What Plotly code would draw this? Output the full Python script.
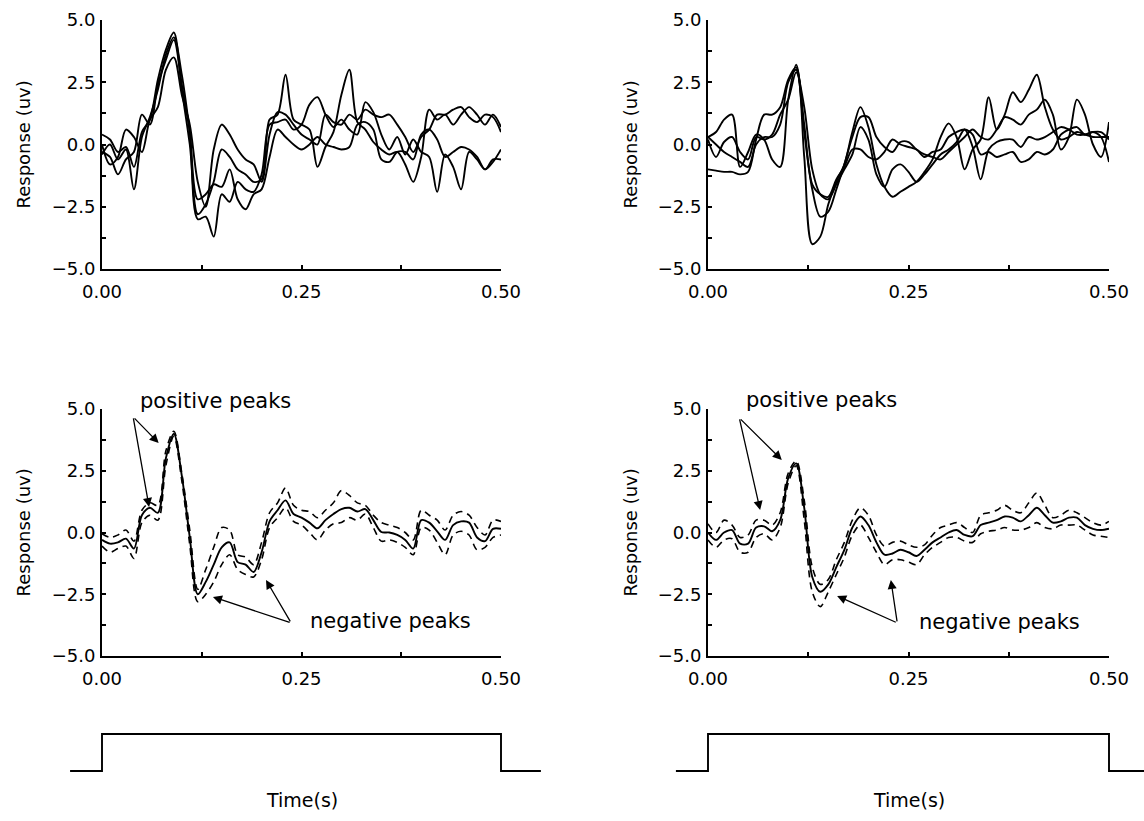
import plotly.graph_objects as go

# ---------------------------------------------------------------- data
TIME = [i / 100 for i in range(51)]  # seconds, 0.00 .. 0.50

# upper-left: four single-trial responses (uV)
TL_A = [0.4, 0.2, -0.3, -0.1, -0.9, 0.5, 1.0, 2.6, 3.8, 4.5,
        2.2, 0.0, -2.8, -2.4, -1.5, -0.2, -0.5, -1.0, -1.2, -1.5,
        -1.4, 1.0, 1.2, 2.8, 1.0, 0.8, 0.6, -0.9, -0.1, 0.5,
        2.0, 3.0, 0.9, 0.6, 0.1, -0.2, -0.4, -0.3, -0.8, -1.5,
        -0.5, 1.4, 1.0, 1.2, 0.8, 1.2, 1.5, 1.2, 0.8, 1.2,
        0.7]
TL_B = [-0.3, -0.5, -1.2, -0.6, -0.3, 1.2, 0.8, 2.4, 3.4, 4.2,
        2.4, 0.5, -3.0, -2.9, -3.7, -2.0, -2.3, -1.5, -1.8, -1.9,
        -1.2, 0.8, 0.9, 1.0, 0.6, 0.8, 1.6, 1.9, 1.2, 0.7,
        1.0, 0.6, 0.4, 1.7, 1.3, 0.4, -0.2, 0.3, -0.4, 0.2,
        -0.3, -0.5, -1.9, -0.4, -0.9, -1.8, -0.3, -0.6, -1.0, -0.7,
        -0.2]
TL_C = [0.0, -0.8, -0.5, 0.6, 0.3, -0.3, 1.0, 1.5, 3.0, 3.5,
        2.0, 0.8, -1.5, -2.5, -0.2, 0.8, 0.4, -0.2, -0.6, -0.8,
        -1.5, 0.4, 1.3, 1.2, 0.8, 0.4, 0.2, 0.0, 1.2, 0.9,
        0.8, 1.2, 1.0, 1.4, 1.2, 1.1, 1.2, 0.8, 0.3, -0.3,
        0.3, 0.6, 1.2, 1.2, 1.4, 1.5, 1.1, 0.9, 1.2, 1.1,
        0.5]
TL_D = [-0.4, 0.0, -0.6, -0.2, -1.8, 0.3, 1.1, 2.2, 3.6, 4.3,
        2.8, 0.5, -2.2, -2.0, -1.6, -1.7, -1.0, -2.2, -2.6, -2.0,
        -1.8, -0.5, 0.6, 0.3, 0.0, -0.2, 0.0, 0.3, 0.0, -0.1,
        -0.2, -0.1, 0.8, 0.9, 0.6, -0.6, -0.7, -0.3, -0.3, -0.6,
        0.4, 0.6, 0.2, -0.5, -0.3, -0.1, -0.2, -0.5, -1.0, -0.6,
        -0.6]

# upper-right: four single-trial responses (uV)
TR_E = [-1.0, -1.05, -1.1, -1.1, -1.2, -1.1, 0.2, 1.2, 1.2, 1.5,
        2.6, 3.1, -0.5, -4.0, -3.7, -2.4, -1.5, -0.8, 0.5, 1.5,
        0.7, -0.8, -1.7, -2.1, -1.9, -1.7, -1.5, -1.1, -0.6, 0.3,
        0.85, 0.3, -1.0, -0.2, 0.2, 1.9, 0.6, 1.2, 2.1, 1.7,
        2.2, 2.8, 1.5, 0.6, 0.2, 0.3, 0.5, 0.4, 0.3, 0.3,
        0.3]
TR_F = [0.3, 0.5, 1.0, 1.2, -0.9, -0.3, 0.4, 0.2, -0.6, -0.9,
        1.8, 3.2, 0.5, -1.8, -2.9, -2.7, -1.8, -0.8, 0.3, 1.1,
        1.1, 0.3, -0.1, -0.3, 0.1, 0.1, -0.2, -0.4, -0.5, -0.6,
        -0.3, 0.0, 0.3, 0.6, 0.3, 0.2, 0.6, 1.1, 1.0, 0.8,
        1.2, 1.4, 1.8, 1.2, -0.2, 0.3, 1.8, 1.2, 0.0, -0.5,
        0.9]
TR_G = [0.2, -0.5, 0.1, 0.3, -0.3, -0.6, 0.3, 0.2, 0.4, 1.2,
        1.8, 2.9, 1.5, -1.0, -2.0, -2.2, -1.6, -1.0, -0.4, 0.7,
        0.2, -1.2, -1.7, -1.0, -0.8, -1.1, -1.5, -1.2, -0.8, -0.4,
        -0.2, 0.1, 0.6, -0.1, -1.4, -0.2, 0.1, 0.2, 0.2, -0.1,
        0.3, 0.2, 0.3, 0.5, 0.7, 0.6, 0.4, 0.4, 0.5, 0.3,
        -0.7]
TR_H = [0.3, 0.0, -0.3, -0.5, -0.7, -0.9, 0.0, 0.3, 0.3, 0.8,
        2.5, 3.0, 0.8, -1.6, -2.0, -2.1, -1.4, -0.9, -0.2, -0.2,
        -0.5, -0.6, -0.3, 0.2, 0.0, -0.1, -0.2, -0.5, -0.3, -0.2,
        0.3, 0.5, 0.6, 0.4, -0.4, -0.3, -0.5, -0.4, -0.3, -0.7,
        -0.6, -0.3, -0.4, -0.2, 0.4, 0.6, 0.7, 0.4, 0.5, 0.5,
        0.2]

# lower-left: averaged response with upper / lower bounds (uV)
BL_MEAN = [-0.3, -0.45, -0.4, -0.25, -0.65, 0.7, 1.0, 0.8, 3.0, 4.0,
           2.3, -0.2, -2.5, -2.0, -1.3, -0.6, -0.4, -1.2, -1.3, -1.6,
           -0.8, 0.45, 0.9, 1.3, 0.75, 0.6, 0.4, 0.17, 0.5, 0.75,
           0.95, 1.0, 0.85, 0.95, 0.5, 0.02, 0.0, -0.1, -0.3, -0.65,
           0.5, 0.4, 0.05, -0.3, 0.3, 0.45, 0.4, -0.2, -0.35, 0.15,
           0.15]
BL_UPPER = [-0.05, -0.2, -0.1, 0.1, -0.35, 0.9, 1.2, 1.1, 3.3, 4.1,
            2.4, 0.1, -2.3, -1.5, -0.6, 0.2, 0.1, -0.9, -1.0, -1.3,
            -0.4, 0.8, 1.2, 1.8, 1.1, 0.9, 0.85, 0.6, 0.9, 1.2,
            1.7, 1.5, 1.2, 1.1, 0.7, 0.4, 0.3, 0.2, 0.0, -0.3,
            0.9, 0.7, 0.5, 0.1, 0.7, 0.85, 0.7, 0.2, -0.1, 0.5,
            0.45]
BL_LOWER = [-0.55, -0.8, -0.65, -0.55, -1.05, 0.4, 0.7, 0.5, 2.7, 3.9,
            2.1, -0.5, -2.8, -2.5, -2.0, -1.3, -0.9, -1.5, -1.7, -1.8,
            -1.1, 0.2, 0.6, 1.0, 0.45, 0.3, 0.0, -0.3, 0.1, 0.35,
            0.4, 0.6, 0.5, 0.75, 0.2, -0.35, -0.3, -0.4, -0.6, -0.9,
            0.2, 0.1, -0.4, -0.9, -0.1, 0.05, -0.1, -0.7, -0.6, -0.2,
            -0.1]

# lower-right: averaged response with upper / lower bounds (uV)
BR_MEAN = [0.0, -0.3, 0.0, 0.1, -0.45, -0.45, 0.2, 0.25, 0.05, 0.5,
           2.2, 2.8, 1.0, -1.8, -2.4, -2.1, -1.4, -0.7, 0.2, 0.65,
           0.3, -0.4, -0.9, -0.85, -0.7, -0.8, -0.95, -0.7, -0.4, -0.2,
           0.0, 0.1, -0.1, -0.15, 0.3, 0.4, 0.5, 0.65, 0.6, 0.45,
           0.7, 1.0, 0.7, 0.4, 0.45, 0.6, 0.6, 0.3, 0.15, 0.1,
           0.15]
BR_UPPER = [0.35, 0.0, 0.5, 0.3, -0.2, -0.1, 0.5, 0.5, 0.3, 0.8,
            2.4, 2.9, 1.3, -1.4, -2.1, -1.9, -1.1, -0.4, 0.5, 1.0,
            0.7, -0.1, -0.55, -0.4, -0.35, -0.5, -0.6, -0.5, -0.1, 0.2,
            0.3, 0.4, 0.2, 0.0, 0.7, 0.8, 0.9, 1.1, 0.9, 0.8,
            1.2, 1.6, 1.1, 0.6, 0.7, 0.9, 0.8, 0.6, 0.4, 0.3,
            0.45]
BR_LOWER = [-0.3, -0.6, -0.3, -0.25, -0.8, -0.8, -0.2, -0.05, -0.3, 0.2,
            2.0, 2.7, 0.5, -2.4, -3.0, -2.4, -1.7, -1.0, -0.1, 0.3,
            -0.2, -0.8, -1.3, -1.1, -1.1, -1.2, -1.3, -0.9, -0.6, -0.4,
            -0.2, -0.2, -0.35, -0.4, -0.05, 0.05, 0.1, 0.2, 0.1, 0.1,
            0.2, 0.4, 0.2, 0.15, 0.3, 0.3, 0.3, 0.1, -0.1, -0.15,
            -0.2]

# stimulus timing (on from 0.0 s to 0.5 s)
PULSE_T = [-0.04, 0.0, 0.0, 0.5, 0.5, 0.55]
PULSE_V = [0, 0, 1, 1, 0, 0]

Y_TICKS = [-5.0, -3.75, -2.5, -1.25, 0.0, 1.25, 2.5, 3.75, 5.0]
Y_LABELS = ["\u22125.0", "", "\u22122.5", "", "0.0", "", "2.5", "", "5.0"]
X_TICKS = [0.0, 0.125, 0.25, 0.375, 0.5]
X_LABELS = ["0.00", "", "0.25", "", "0.50"]

# ---------------------------------------------------------------- layout helpers
W, H = 1144, 821
FONT = "DejaVu Sans"


def xdom(p0, p1):
    return [p0 / W, p1 / W]


def ydom(top, bottom):
    return [1 - bottom / H, 1 - top / H]


def px_x(p):
    return p / W


def px_y(p):
    return 1 - p / H


COLS = {"L": (102, 501), "R": (708, 1109)}
ROWS = {"T": (20, 269), "B": (409, 656)}

fig = go.Figure()

line_solid = dict(color="black", width=1.9, shape="spline", smoothing=0.9)
line_dash = dict(color="black", width=1.6, shape="spline", smoothing=0.9, dash="7px,5px")


def add(series, axis, line):
    fig.add_trace(go.Scatter(x=TIME, y=series, mode="lines", line=line,
                             xaxis="x" + axis, yaxis="y" + axis,
                             showlegend=False, hoverinfo="skip"))


for s in (TL_A, TL_B, TL_C, TL_D):
    add(s, "", line_solid)
for s in (TR_E, TR_F, TR_G, TR_H):
    add(s, "2", line_solid)
add(BL_UPPER, "3", line_dash)
add(BL_LOWER, "3", line_dash)
add(BL_MEAN, "3", line_solid)
add(BR_UPPER, "4", line_dash)
add(BR_LOWER, "4", line_dash)
add(BR_MEAN, "4", line_solid)

for ax in ("5", "6"):
    fig.add_trace(go.Scatter(x=PULSE_T, y=PULSE_V, mode="lines",
                             line=dict(color="black", width=1.9),
                             xaxis="x" + ax, yaxis="y" + ax,
                             showlegend=False, hoverinfo="skip"))

axis_font = dict(family=FONT, size=18, color="black")
xbase = dict(range=[0, 0.5], tickvals=X_TICKS, ticktext=X_LABELS, ticks="inside",
             ticklen=4, tickwidth=1.5, tickcolor="black", showline=True,
             linecolor="black", linewidth=2, showgrid=False, zeroline=False,
             tickfont=axis_font, ticklabelstandoff=5, fixedrange=True,
             automargin=False)
ybase = dict(range=[-5, 5], tickvals=Y_TICKS, ticktext=Y_LABELS, ticks="inside",
             ticklen=4, tickwidth=1.5, tickcolor="black", showline=True,
             linecolor="black", linewidth=2, showgrid=False, zeroline=False,
             tickfont=axis_font, ticklabelstandoff=1, fixedrange=True,
             automargin=False)

panels = [("", "L", "T"), ("2", "R", "T"), ("3", "L", "B"), ("4", "R", "B")]
layout = {}
for ax, c, r in panels:
    layout["xaxis" + ax] = dict(xbase, domain=xdom(*COLS[c]), anchor="y" + ax)
    layout["yaxis" + ax] = dict(ybase, domain=ydom(*ROWS[r]), anchor="x" + ax)

# stimulus strips share the time scale of the panels above them
PULSE_ROW = (734, 771)          # pixel rows of the "on" and "off" levels
pad = 6
span = PULSE_ROW[1] - PULSE_ROW[0]
for ax, c, (p0, p1) in (("5", "L", (66, 545)), ("6", "R", (672, 1144))):
    a0, a1 = COLS[c]
    k = 0.5 / (a1 - a0)
    layout["xaxis" + ax] = dict(domain=xdom(p0, p1), range=[(p0 - a0) * k, (p1 - a0) * k],
                                visible=False, anchor="y" + ax, fixedrange=True,
                                automargin=False)
    layout["yaxis" + ax] = dict(domain=ydom(PULSE_ROW[0] - pad, PULSE_ROW[1] + pad),
                                range=[-pad / span, 1 + pad / span],
                                visible=False, anchor="x" + ax, fixedrange=True,
                                automargin=False)

ann = []
text_font = dict(family=FONT, size=18, color="black")
callout_font = dict(family=FONT, size=21, color="black")
time_font = dict(family=FONT, size=19, color="black")
# y-axis titles
for xc, (t, b) in ((23, ROWS["T"]), (630, ROWS["T"]), (23, ROWS["B"]), (630, ROWS["B"])):
    ann.append(dict(text="Response (uv)", x=px_x(xc), y=px_y((t + b) / 2), xref="paper",
                    yref="paper", textangle=-90, showarrow=False, font=text_font,
                    xanchor="center", yanchor="middle"))
# stimulus time labels
for c in ("L", "R"):
    a0, a1 = COLS[c]
    ann.append(dict(text="Time(s)", x=px_x((a0 + a1) / 2), y=px_y(800), xref="paper",
                    yref="paper", showarrow=False, font=time_font,
                    xanchor="center", yanchor="middle"))

# peak call-outs: (axis, label x, label row px, label, arrow tail, arrow tips)
callouts = [
    ("3", 0.142, 401, "positive peaks", (0.039, 4.68), [(0.071, 3.62), (0.059, 1.03)]),
    ("3", 0.362, 621, "negative peaks", (0.237, -3.66), [(0.139, -2.61), (0.2055, -1.92)]),
    ("4", 0.142, 400, "positive peaks", (0.039, 4.64), [(0.092, 2.94), (0.065, 0.91)]),
    ("4", 0.363, 622, "negative peaks", (0.236, -3.66), [(0.161, -2.57), (0.228, -1.92)]),
]
for ax, lx, row, label, (tx, ty), tips in callouts:
    ann.append(dict(text=label, x=lx, y=px_y(row), xref="x" + ax, yref="paper",
                    showarrow=False, font=callout_font, xanchor="center", yanchor="middle"))
    for px, py in tips:
        ann.append(dict(text="", x=px, y=py, xref="x" + ax, yref="y" + ax,
                        ax=tx, ay=ty, axref="x" + ax, ayref="y" + ax,
                        showarrow=True, arrowhead=2, arrowsize=1.4, arrowwidth=1.3,
                        arrowcolor="black"))

fig.update_layout(width=W, height=H, margin=dict(l=0, r=0, t=0, b=0, pad=0),
                  paper_bgcolor="white", plot_bgcolor="white",
                  font=text_font, annotations=ann, **layout)

fig.write_html("out.html", config={"displayModeBar": False})
